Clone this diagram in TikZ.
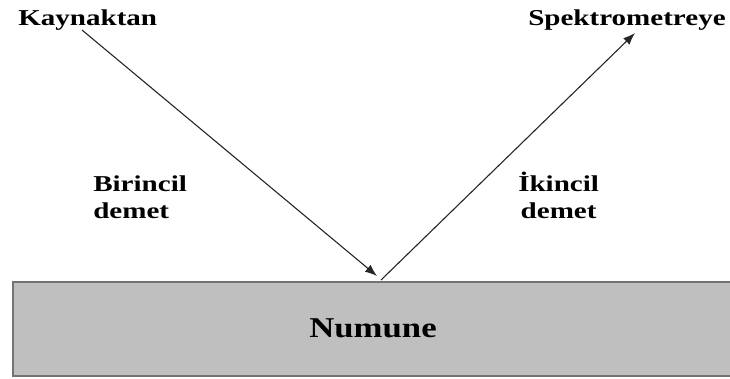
\documentclass[tikz,border=0pt]{standalone}
\usepackage{fontspec}
\setmainfont{Liberation Serif}
\usetikzlibrary{arrows.meta}
\tikzset{
  lbl/.style={inner sep=0pt, font=\bfseries\fontsize{22.7}{27}\selectfont, xscale=1.28},
  ray/.style={draw=black!85, line width=1.1pt, -{Latex[length=12pt,width=9pt]}},
  sample/.style={fill=black!25, draw=black!55, line width=2pt}
}
\begin{document}
\begin{tikzpicture}[x=1pt,y=-1pt]
\useasboundingbox (0,0) rectangle (730,378);
\begin{scope}
\clip (0,0) rectangle (730,378);
\path[sample] (13,282) rectangle (745,376);
\end{scope}
\node[lbl, anchor=base west] (src) at (18,25) {Kaynaktan};
\node[lbl, anchor=base west] (spec) at (528,25) {Spektrometreye};
\node[lbl, anchor=base west, align=left] (prim) at (93,218) {Birincil\\demet};
\node[lbl, anchor=base west, align=center] (sec) at (518,218) {İkincil\\demet};
\node[inner sep=0pt, font=\bfseries\fontsize{28.7}{32}\selectfont, xscale=1.21, anchor=base] (num) at (373,337) {Numune};
\coordinate (start) at (82,30);
\coordinate (hit) at (377,276);
\coordinate (out) at (381,280);
\coordinate (end) at (635,33);
\draw[ray] (start) -- (hit);
\draw[ray] (out) -- (end);
\end{tikzpicture}
\end{document}
